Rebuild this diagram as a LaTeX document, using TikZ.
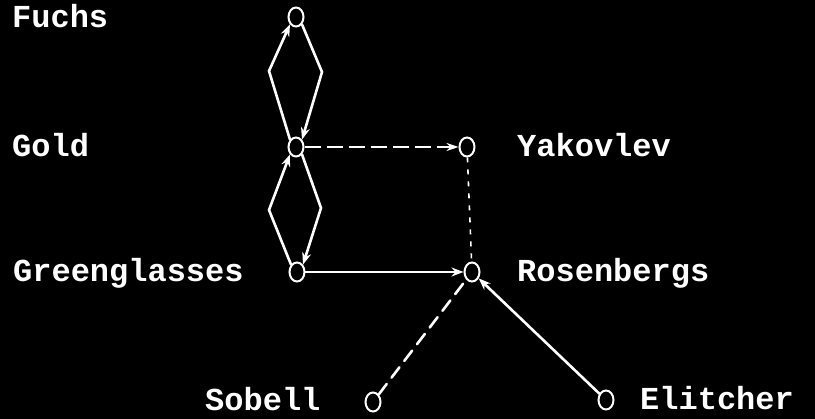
\documentclass[tikz,border=0pt]{standalone}
\usepackage{fontspec}
\setmonofont{Liberation Mono}
\usetikzlibrary{arrows.meta, shapes.geometric, positioning}

\begin{document}
\begin{tikzpicture}[x=1pt, y=-1pt,
    agent/.style={ellipse, draw=white, fill=black, line width=2pt,
                  minimum width=15pt, minimum height=19pt, inner sep=0pt},
    alias label/.style={anchor=base west, inner sep=0pt, text=white,
                 font=\fontsize{32}{32}\selectfont\ttfamily\bfseries},
    link/.style={white, line width=2.6pt, line cap=round},
    arr/.style={link, -{Stealth[length=12pt, width=9pt]}},
    courier/.style={white, line width=2pt, dash pattern=on 16pt off 6pt},
    meet/.style={white, line width=1.6pt, dash pattern=on 5pt off 7pt}
  ]
    % background
    \fill[black] (0,0) rectangle (815,419);
    \useasboundingbox (0,0) rectangle (815,419);

    % agents
    \node[agent] (fuchs)    at (296,17)  {};
    \node[agent] (gold)     at (296,147) {};
    \node[agent] (yakovlev) at (467,147) {};
    \node[agent] (green)    at (297,272) {};
    \node[agent] (rosen)    at (472,272) {};
    \node[agent] (sobell)   at (373,402) {};
    \node[agent] (elitcher) at (606,400) {};

    % names
    \node[alias label] (lfuchs)    at (12,28)   {Fuchs};
    \node[alias label] (lgold)     at (12,157)  {Gold};
    \node[alias label] (lyakovlev) at (517,157) {Yakovlev};
    \node[alias label] (lgreen)    at (13,282)  {Greenglasses};
    \node[alias label] (lrosen)    at (517,282) {Rosenbergs};
    \node[alias label] (lsobell)   at (205,411) {Sobell};
    \node[alias label] (lelitcher) at (640,410) {Elitcher};

    % bends of the two exchanges
    \coordinate (fgL) at (269,71);
    \coordinate (fgR) at (322,72);
    \coordinate (ggL) at (269,210);
    \coordinate (ggR) at (321,208);

    % Fuchs <-> Gold
    \draw[arr] (gold.north west) -- (fgL) -- (fuchs.south west);
    \draw[arr] (fuchs.south east) -- (fgR) -- (gold.north east);
    % Gold <-> Greenglasses
    \draw[arr] (green.north west) -- (ggL) -- (gold.south west);
    \draw[arr] (gold.south east) -- (ggR) -- (green.north east);

    % couriers
    \draw[courier, -{Stealth[length=12pt, width=8pt]}] (gold) -- (yakovlev);
    \draw[meet] (yakovlev) -- (rosen);
    \draw[arr, line width=2pt] (green) -- (rosen);
    \draw[link, dash pattern=on 13pt off 8pt] (sobell) -- (rosen);
    \draw[arr] (elitcher) -- (rosen);
  \end{tikzpicture}
\end{document}
